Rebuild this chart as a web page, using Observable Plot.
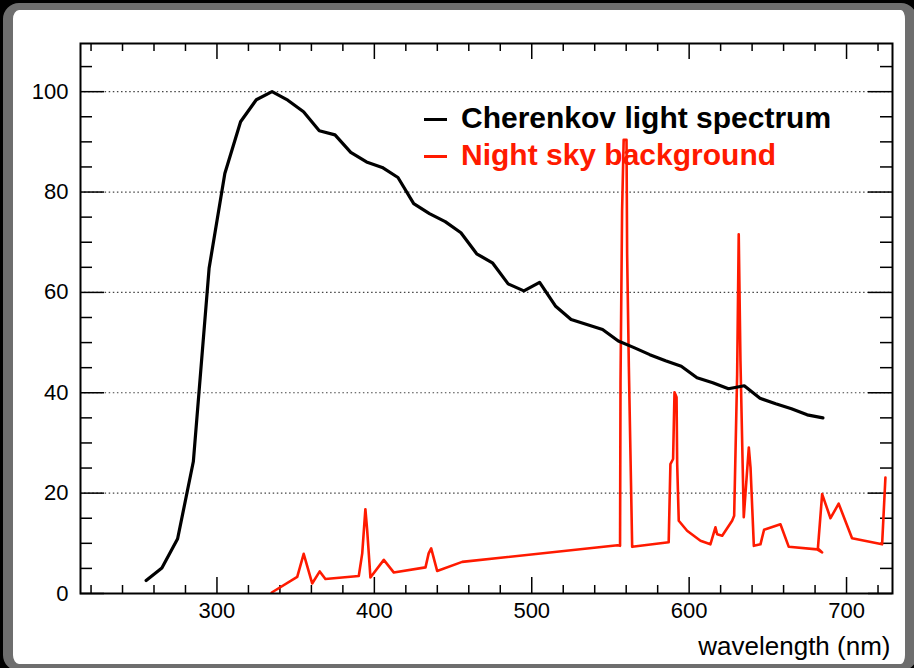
<!DOCTYPE html>
<html>
<head>
<meta charset="utf-8">
<script src="https://cdn.jsdelivr.net/npm/d3@7"></script>
<script src="https://cdn.jsdelivr.net/npm/@observablehq/plot@0.6"></script>
<style>
  html, body { margin: 0; padding: 0; background: #000; width: 914px; height: 668px; overflow: hidden; }
  #panel { position: absolute; left: 3px; top: 3px; width: 914px; height: 668px; box-sizing: border-box;
           border-style: solid; border-color: #6e6e6e; border-width: 7px 12px 7px 10px; border-radius: 16px; background: #fff; }
  #chart { position: absolute; left: 0; top: 0; }
  .leg { position: absolute; font-family: "Liberation Sans", Arial, Helvetica, sans-serif; font-weight: bold; font-size: 30px; line-height: 1; white-space: nowrap; }
  .swatch { position: absolute; height: 3px; width: 23px; }
</style>
</head>
<body>
<div id="panel"></div>
<div id="chart"></div>
<script>
// ---- data ----
const seriesNames = ["Cherenkov light spectrum", "Night sky background"];
const seriesColors = ["#000000", "#ff1a00"];

const cherenkovWl = [255, 265, 275, 285, 295, 305, 315, 325, 335, 345, 355, 365, 375, 385, 395, 405, 415, 425, 435, 445,
  455, 465, 475, 485, 495, 505, 515, 525, 535, 545, 555, 565, 575, 585, 595, 605, 615, 625, 635, 645, 655, 665, 675, 685];
const cherenkovVal = [2.6, 5.1, 10.9, 26.3, 64.8, 83.7, 94.0, 98.4, 100, 98.3, 96.0, 92.2, 91.4, 87.9, 86.0, 84.9, 82.9, 77.7, 75.7, 74.1,
  71.9, 67.7, 65.9, 61.7, 60.3, 62.0, 57.3, 54.6, 53.6, 52.6, 50.3, 49.0, 47.6, 46.4, 45.3, 43.0, 42.0, 40.8, 41.4, 38.9, 37.8, 36.8, 35.6, 35.0];

const nsbWl = [334.8, 351, 355.1, 360.5, 365.3, 368.9, 390.1, 392.3, 394.3, 395.4, 397.5, 406, 412.3, 432.5, 434.5, 436.1, 439.9, 455.8,
  554.5, 556.1, 556.4, 557.4, 558.4, 560.2, 560.6, 561.7, 563.8,
  587, 588.1, 589.8, 590.7, 592, 592.4, 593.4, 598.7, 607.2, 613.5, 616.7, 617.8, 621, 627.3, 628.6, 630.5, 631.5, 632.6, 634.7,
  637.9, 639, 641.1, 645.3, 647.6, 658, 663.3, 681.3, 684.5, 681.8, 684.5, 689.8, 695, 703.5, 722.6, 724.7];
const nsbVal = [0.2, 3.3, 7.9, 2.0, 4.4, 2.9, 3.5, 8.0, 16.8, 12.8, 3.2, 6.7, 4.2, 5.2, 8.0, 9.0, 4.5, 6.3,
  9.6, 9.5, 42.4, 76.3, 90.4, 90.4, 67.7, 45.1, 9.3,
  10.2, 25.8, 26.8, 40.1, 39.1, 25.8, 14.5, 12.5, 10.5, 9.8, 13.2, 11.8, 11.5, 14.5, 15.5, 43.7, 71.6, 46.4, 15.2,
  29.1, 25.1, 9.5, 9.8, 12.7, 13.8, 9.3, 8.8, 8.2, 9.0, 19.8, 15.0, 17.9, 11.0, 9.8, 23.1];

const xTickLabels = [300, 400, 500, 600, 700];
const yTickLabels = [0, 20, 40, 60, 80, 100];
const xTitle = "wavelength (nm)";

// ---- derived tables ----
const cherenkov = cherenkovWl.map((w, i) => ({wl: w, v: cherenkovVal[i]}));
const nsb = nsbWl.map((w, i) => ({wl: w, v: nsbVal[i]}));
const xMinor = d3.range(220, 729, 20).filter(d => d % 100 !== 0);
const yMinor = d3.range(5, 110, 5).filter(d => d % 20 !== 0);

const W = 914, H = 668;
const mL = 80, mR = 22, mT = 43, mB = 75;
const fw = W - mL - mR, fh = H - mT - mB;

const font = '"Liberation Sans", Arial, Helvetica, sans-serif';

const chart = Plot.plot({
  width: W, height: H,
  marginLeft: mL, marginRight: mR, marginTop: mT, marginBottom: mB,
  style: {fontFamily: font, background: "transparent", color: "#000"},
  x: {domain: [213.3, 729.2]},
  y: {domain: [0, 109.6]},
  marks: [
    Plot.gridY(yTickLabels.slice(1), {stroke: "#444", strokeOpacity: 1, strokeWidth: 1.2, strokeDasharray: "1.5,2.6"}),
    // bottom & top ticks
    Plot.ruleX(xTickLabels, {x: d => d, insetTop: fh - 16, strokeWidth: 1.5}),
    Plot.ruleX(xMinor, {x: d => d, insetTop: fh - 8, strokeWidth: 1.5}),
    Plot.ruleX(xTickLabels, {x: d => d, insetBottom: fh - 16, strokeWidth: 1.5}),
    Plot.ruleX(xMinor, {x: d => d, insetBottom: fh - 8, strokeWidth: 1.5}),
    // left & right ticks
    Plot.ruleY(yTickLabels, {y: d => d, insetRight: fw - 24, strokeWidth: 1.5}),
    Plot.ruleY(yMinor, {y: d => d, insetRight: fw - 12, strokeWidth: 1.5}),
    Plot.ruleY(yTickLabels, {y: d => d, insetLeft: fw - 24, strokeWidth: 1.5}),
    Plot.ruleY(yMinor, {y: d => d, insetLeft: fw - 12, strokeWidth: 1.5}),
    Plot.axisX(xTickLabels, {tickSize: 0, tickPadding: 9, fontSize: 22, tickFormat: d => String(d), label: null}),
    Plot.axisY(yTickLabels, {tickSize: 0, tickPadding: 12, fontSize: 22, tickFormat: d => String(d), label: null}),
    Plot.text([xTitle], {frameAnchor: "bottom-right", text: d => d, textAnchor: "end", lineAnchor: "middle", dy: 53, dx: -2, fontSize: 26}),
    Plot.line(nsb, {x: "wl", y: "v", stroke: seriesColors[1], strokeWidth: 2.6, strokeLinejoin: "round"}),
    Plot.line(cherenkov, {x: "wl", y: "v", stroke: seriesColors[0], strokeWidth: 3.2, strokeLinejoin: "round", strokeLinecap: "round"}),
    Plot.frame({stroke: "#000", strokeWidth: 2})
  ]
});
document.getElementById("chart").appendChild(chart);

// ---- legend ----
const legendTop = [119, 156];
seriesNames.forEach((name, i) => {
  const sw = document.createElement("div");
  sw.className = "swatch";
  sw.style.left = "424px";
  sw.style.top = (legendTop[i] - 1.5) + "px";
  sw.style.background = seriesColors[i];
  document.body.appendChild(sw);
  const t = document.createElement("div");
  t.className = "leg";
  t.textContent = name;
  t.style.left = "461px";
  t.style.top = (legendTop[i] - 16) + "px";
  t.style.color = seriesColors[i];
  document.body.appendChild(t);
});
</script>
</body>
</html>
